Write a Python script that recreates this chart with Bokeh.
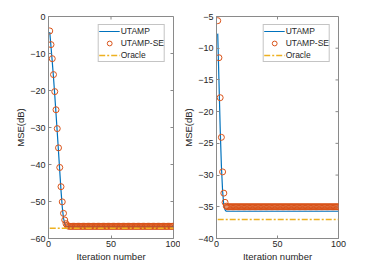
import math
from bokeh.plotting import figure
from bokeh.layouts import row
from bokeh.models import FixedTicker, Range1d, Legend, LegendItem
from bokeh.embed import file_html
from bokeh.resources import INLINE

iters = list(range(1, 101))

left_utamp = [-4.2, -8.2, -12.2, -16.5, -21.2, -26.2, -31.3, -36.5, -41.8, -47.0,
              -51.5, -54.5, -56.0, -56.6, -56.8] + [-56.8] * 85
left_se = [-3.9, -7.6, -11.4, -15.7, -20.3, -25.2, -30.3, -35.5, -40.8, -46.0,
           -50.1, -53.2, -55.0, -56.0, -56.5] + [-56.7] * 85
left_oracle = [-57.2] * 100

right_utamp = [-7.7, -15.0, -22.5, -28.5, -32.5, -34.8, -35.5, -35.7] + [-35.7] * 92
right_se = [-5.66, -11.5, -17.8, -24.05, -29.5, -32.85, -34.3, -34.9] + [-35.0] * 92
right_oracle = [-37.0] * 100

left_yticks = [0, -10, -20, -30, -40, -50, -60]
right_yticks = [-5, -10, -15, -20, -25, -30, -35, -40]
xticks = [0, 50, 100]

FONT = "Liberation Sans"
AX = "#8a8a8a"
TXT = "#262626"


def style_axis(ax):
    ax.axis_line_color = AX
    ax.major_tick_line_color = AX
    ax.minor_tick_line_color = None
    ax.major_tick_in = 3
    ax.major_tick_out = 0
    ax.axis_label_text_font = FONT
    ax.axis_label_text_font_style = "normal"
    ax.axis_label_text_font_size = "9.5px"
    ax.axis_label_text_color = TXT
    ax.major_label_text_font = FONT
    ax.major_label_text_font_size = "9px"
    ax.major_label_text_color = TXT


def make(ut, se, orc, yr, yticks, w, bl, br):
    p = figure(width=w, height=264, output_backend="svg", toolbar_location=None,
               title=None,
               x_range=Range1d(0, 100), y_range=Range1d(*yr),
               min_border_left=bl, min_border_right=br, min_border_top=16,
               min_border_bottom=24)
    p.outline_line_color = AX
    p.grid.visible = False
    p.background_fill_color = "white"
    p.border_fill_color = "white"
    p.xaxis.ticker = FixedTicker(ticks=xticks)
    p.yaxis.ticker = FixedTicker(ticks=yticks)
    p.xaxis.axis_label = "Iteration number"
    p.yaxis.axis_label = "MSE(dB)"
    for a in p.xaxis + p.yaxis:
        style_axis(a)
    p.xaxis.major_label_standoff = 2
    p.xaxis.axis_label_standoff = 1
    p.yaxis.major_label_standoff = 3
    p.yaxis.axis_label_standoff = 1

    # inward ticks on the top and right edges of the box (MATLAB "box on")
    p.ray(x=xticks, y=[yr[1]] * len(xticks), length=3, length_units="screen",
          angle=-math.pi / 2, line_color=AX, line_width=1)
    p.ray(x=[100] * len(yticks), y=yticks, length=3, length_units="screen",
          angle=math.pi, line_color=AX, line_width=1)

    r1 = p.line(iters, ut, line_color="#0072BD", line_width=1.2)
    r2 = p.scatter(iters, se, marker="circle", size=6, fill_color=None,
                   line_color="#D95319", line_width=1)
    r3 = p.line(iters, orc, line_color="#EDB120", line_width=1.5, line_dash="6 2 2 2")
    leg = Legend(items=[LegendItem(label="UTAMP", renderers=[r1]),
                        LegendItem(label="UTAMP-SE", renderers=[r2]),
                        LegendItem(label="Oracle", renderers=[r3])],
                 location="top_right")
    leg.margin = 8
    leg.padding = 0
    leg.spacing = 0
    leg.glyph_width = 21
    leg.glyph_height = 12
    leg.label_height = 12
    leg.label_width = 10
    leg.label_standoff = 1
    leg.label_text_font = FONT
    leg.label_text_font_size = "8.5px"
    leg.label_text_color = TXT
    leg.border_line_color = AX
    leg.border_line_width = 1
    leg.background_fill_color = "white"
    leg.background_fill_alpha = 1
    p.add_layout(leg, "center")
    return p


p1 = make(left_utamp, left_se, left_oracle, (-60, 0), left_yticks, 180, 48, 7)
p2 = make(right_utamp, right_se, right_oracle, (-40, -5), right_yticks, 178, 33, 20)

p = row(p1, p2)
open("out.html", "w").write(file_html(p, INLINE))
